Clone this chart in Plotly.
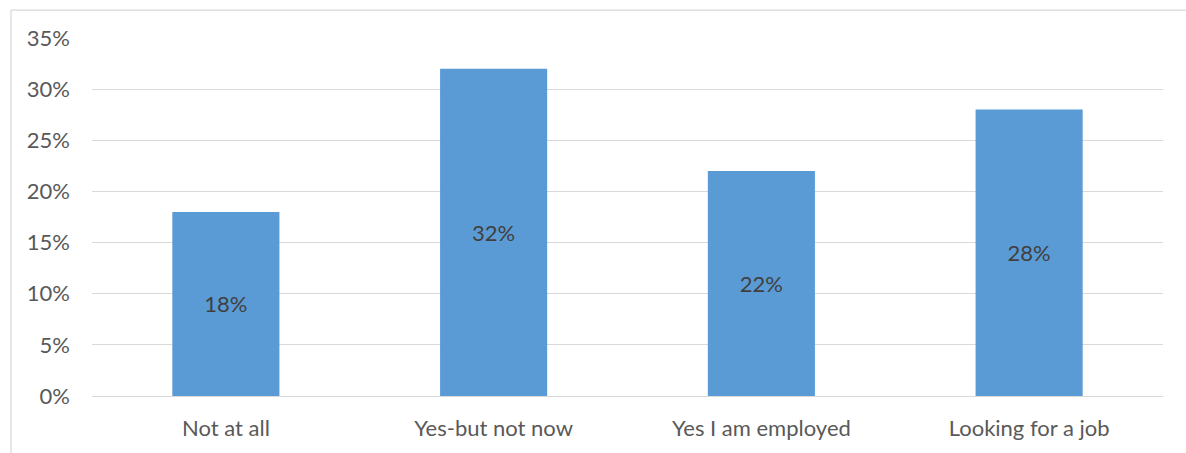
import plotly.graph_objects as go

categories = ["Not at all", "Yes-but not now", "Yes I am employed", "Looking for a job"]
values = [0.18, 0.32, 0.22, 0.28]
y_ticks = [0, 0.05, 0.10, 0.15, 0.20, 0.25, 0.30, 0.35]
y_tick_labels = ["0%", "5%", "10%", "15%", "20%", "25%", "30%", "35%"]

font_family = "Lato, Open Sans, sans-serif"

fig = go.Figure(
    go.Bar(
        x=categories,
        y=values,
        marker=dict(color="#5B9BD5", line=dict(width=0)),
        text=[f"{round(v * 100)}%" for v in values],
        textposition="inside",
        insidetextanchor="middle",
        textfont=dict(family=font_family, size=22, color="#404040"),
        hoverinfo="skip",
    )
)

fig.update_layout(
    width=1186,
    height=453,
    margin=dict(l=92, r=23, t=38, b=57),
    paper_bgcolor="white",
    plot_bgcolor="white",
    bargap=0.6,
    showlegend=False,
    font=dict(family=font_family, color="#595959", size=22),
    xaxis=dict(
        showgrid=False,
        showline=False,
        ticks="",
        ticklabelstandoff=17,
        tickfont=dict(size=22, color="#595959"),
    ),
    yaxis=dict(
        range=[0, 0.35],
        tickvals=y_ticks,
        ticktext=y_tick_labels,
        showgrid=True,
        gridcolor="#D9D9D9",
        gridwidth=1.3,
        zeroline=True,
        zerolinecolor="#D9D9D9",
        zerolinewidth=1.3,
        showline=False,
        ticks="",
        ticklabelstandoff=21,
        tickfont=dict(size=22, color="#595959"),
    ),
    shapes=[
        # chart frame: left and top edges
        dict(type="line", xref="paper", yref="paper",
             x0=-0.0756, x1=-0.0756, y0=1.078, y1=-0.17,
             line=dict(color="#D9D9D9", width=1.3)),
        dict(type="line", xref="paper", yref="paper",
             x0=-0.0756, x1=1.03, y0=1.078, y1=1.078,
             line=dict(color="#D9D9D9", width=1.3)),
    ],
)

fig.write_html("out.html")
